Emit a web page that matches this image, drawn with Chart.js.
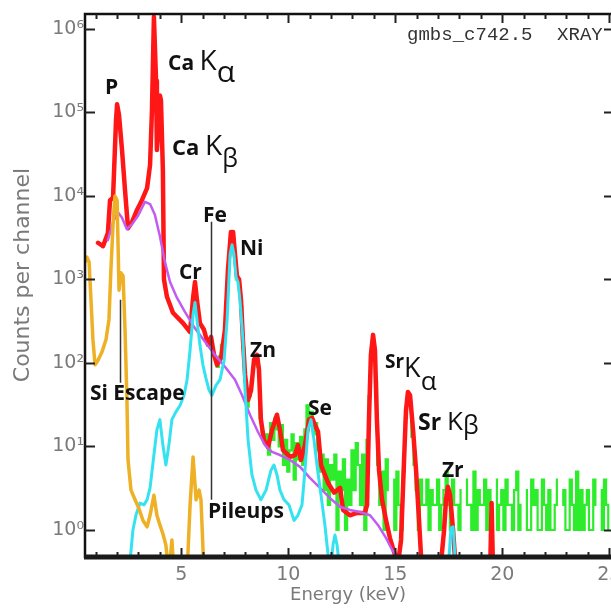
<!DOCTYPE html>
<html>
<head>
<meta charset="utf-8">
<script src="https://cdn.jsdelivr.net/npm/chart.js@4"></script>
<style>
  html, body { margin: 0; padding: 0; background: #fff; }
  #spectrum { display: block; }
</style>
</head>
<body>
<canvas id="spectrum" width="611" height="610"></canvas>
<script>
// [energy keV, counts per channel]
const totalFit = [
  [1.11, 2750], [1.34, 2500], [1.57, 3600], [1.67, 8900], [1.81, 9500], [1.95, 81000], [2.00, 125000], [2.09, 93000], [2.23, 35500], [2.37, 11700],
  [2.51, 4100], [2.70, 4900], [2.93, 6800], [3.16, 8900], [3.40, 12400], [3.54, 23500], [3.63, 107000], [3.72, 1400000], [3.82, 240000], [3.86, 35500],
  [3.96, 81000], [4.00, 160000], [4.05, 140000], [4.14, 20000], [4.19, 1000], [4.33, 620], [4.61, 400], [5.08, 300], [5.41, 235], [5.55, 600],
  [5.64, 930], [5.73, 570], [5.87, 300], [6.06, 250], [6.25, 165], [6.39, 205], [6.53, 125], [6.67, 95],
  [6.86, 115], [7.04, 250], [7.18, 1300], [7.32, 3700], [7.42, 3700], [7.51, 2000], [7.60, 1100], [7.70, 1000], [7.79, 570], [7.88, 190],
  [7.98, 72], [8.12, 36], [8.26, 47], [8.40, 110], [8.54, 125], [8.63, 83], [8.72, 21], [8.86, 12], [9.05, 9.8], [9.24, 15.8],
  [9.47, 24], [9.61, 15.8], [9.75, 9.1], [10.08, 7.5], [10.31, 7.9], [10.45, 10.4], [10.59, 6.9], [10.78, 10.4], [10.97, 21], [11.11, 22],
  [11.25, 18], [11.39, 15], [11.53, 6.0], [11.86, 3.65], [12.14, 2.8], [12.28, 3.0], [12.42, 3.2], [12.56, 1.74], [12.88, 1.5], [13.21, 1.6],
  [13.58, 1.6], [13.68, 2.0], [13.77, 21], [13.86, 125], [13.96, 217], [14.05, 143], [14.14, 21], [14.24, 5.2], [14.38, 2.3], [14.57, 1.3],
  [14.75, 0.8], [14.99, 0.5], [15.13, 0.4], [15.27, 0.76], [15.41, 6.9], [15.50, 27], [15.59, 45], [15.69, 41], [15.83, 15.8], [15.97, 5.2],
  [16.11, 1.3], [16.20, 0.5], [16.29, 0.3], [17.09, 0.3], [17.28, 1.0], [17.37, 2.3], [17.46, 3.3], [17.56, 2.6], [17.70, 1.0], [17.84, 0.3],
  [19.43, 0.3], [19.50, 2.1], [19.57, 0.3]
];

const continuum = [
  [1.57, 2950], [1.81, 4900], [2.04, 6400], [2.23, 5500], [2.46, 4000], [2.70, 4600], [2.98, 5800], [3.30, 8500], [3.54, 8000], [3.77, 5900],
  [4.00, 3300], [4.24, 1600], [4.47, 940], [4.80, 600], [5.17, 410], [5.64, 260], [6.11, 180], [6.57, 125], [7.04, 90], [7.51, 63],
  [7.84, 41], [8.21, 24], [8.58, 15], [8.91, 10.4], [9.24, 8.6], [9.61, 7.9], [10.08, 6.9], [10.55, 5.7], [11.01, 4.2], [11.48, 3.2],
  [11.95, 2.4], [12.42, 1.9], [12.88, 1.74], [13.35, 1.64], [13.82, 1.5], [14.19, 1.15], [14.57, 0.8], [14.85, 0.58], [15.13, 0.46], [15.32, 0.3]
];

const pileup = [
  [2.55, 0.3], [2.74, 1.0], [2.88, 1.5], [3.07, 2.1], [3.26, 2.0], [3.40, 2.3], [3.54, 3.2], [3.72, 7.9], [3.86, 15.8], [4.00, 21],
  [4.14, 10.4], [4.28, 6.0], [4.42, 10.4], [4.56, 21], [4.75, 26], [4.94, 31], [5.13, 41], [5.27, 63], [5.41, 143], [5.55, 380],
  [5.64, 530], [5.73, 330], [5.87, 165], [6.01, 95], [6.15, 66], [6.30, 47], [6.43, 41], [6.62, 54], [6.81, 63], [7.00, 108],
  [7.14, 330], [7.28, 2000], [7.37, 2600], [7.46, 2000], [7.56, 1050], [7.65, 930], [7.74, 570], [7.88, 190], [7.98, 47], [8.12, 12],
  [8.30, 4.6], [8.49, 3.0], [8.72, 2.3], [8.96, 3.0], [9.19, 5.2], [9.33, 6.0], [9.47, 4.6], [9.61, 3.0], [9.80, 2.3], [10.03, 2.0],
  [10.27, 1.3], [10.45, 1.5], [10.64, 2.0], [10.78, 5.2], [10.92, 15.8], [11.06, 21], [11.20, 12], [11.34, 6.0], [11.53, 2.6], [11.71, 1.15],
  [11.86, 0.5], [12.00, 0.38], [12.09, 0.66], [12.18, 0.87], [12.28, 0.66], [12.42, 0.3], [17.46, 0.3], [17.60, 1.05], [17.70, 1.09], [17.84, 0.3]
];

const siEscape = [
  [0.50, 1620], [0.59, 1850], [0.69, 1620], [0.78, 570], [0.87, 190], [0.97, 95], [1.11, 108], [1.29, 135], [1.48, 190], [1.62, 330],
  [1.71, 1300], [1.81, 4500], [1.90, 10000], [2.00, 8900], [2.09, 745], [2.18, 1200], [2.28, 1100], [2.37, 250], [2.46, 36], [2.51, 6.9],
  [2.65, 3.0], [2.84, 2.3], [3.02, 1.8], [3.21, 1.3], [3.40, 1.09], [3.54, 1.5], [3.72, 2.6], [3.86, 1.5], [4.00, 1.15], [4.14, 0.9],
  [4.28, 0.66], [4.42, 0.3], [4.56, 0.76], [4.66, 0.3], [5.27, 0.3], [5.41, 2.0], [5.55, 7.5], [5.69, 2.3], [5.83, 3.0], [5.92, 2.3],
  [6.06, 0.3]
];

// raw channel counts, first channel at 6.6 keV, 0.1 keV per channel
const channelStart = 6.6;
const channelWidth = 0.1;
const rawCounts = [
  95, 90, 120, 165, 200, 520, 1250, 3000, 3300, 1900, 1000, 900, 480, 150,
  60, 30, 40, 60, 95, 120, 90, 22, 15, 11,
  14, 8, 19, 12, 22, 16, 10, 18, 6, 12,
  5, 9, 14, 4, 11, 7, 13, 6, 16, 31,
  22, 26, 14, 19, 9, 5, 8, 3, 7, 2,
  6, 4, 8, 1, 5, 3, 7, 1, 4, 2,
  9, 3, 11, 6, 2, 8, 1, 12, 40, 150,
  160, 60, 6, 2, 5, 1, 7, 3, 0, 4,
  1, 5, 2, 1, 5, 22, 38, 32, 13, 6,
  3, 1, 4, 2, 2, 4, 1, 3, 2, 2,
  4, 1, 2, 3, 5, 2, 1, 4, 2, 2,
  1, 3, 0, 4, 2, 2, 1, 5, 1, 3,
  2, 2, 4, 1, 3, 2, 0, 4, 1, 2,
  3, 1, 4, 2, 2, 1, 3, 5, 1, 2,
  0, 3, 1, 1, 4, 2, 3, 1, 1, 4,
  2, 1, 3, 1, 1, 2, 4, 0, 2, 3,
  1, 1, 4, 2, 1, 5, 1, 3, 1, 2,
  3, 1, 1, 4, 2, 0, 3, 1, 4, 2, 1
];

const energyTicks = [5, 10, 15, 20, 25];
const countTicks = [1, 10, 100, 1000, 10000, 100000, 1000000];
const superscript = ['⁰', '¹', '²', '³', '⁴', '⁵', '⁶'];

// annotation text: anchor [keV, counts] at left baseline, parts [text, px, weight, dy]
const peakLabels = [
  { at: [1.43, 1.66e5], parts: [['P', 21, 700, 0]] },
  { at: [4.38, 3.2e5], parts: [['Ca ', 21, 700, 0], ['K', 28, 400, 0], ['α', 30, 400, 12]] },
  { at: [4.57, 3.1e4], parts: [['Ca ', 22, 700, 0], ['K', 28, 400, 0], ['β', 25, 400, 12]] },
  { at: [6.01, 4900], parts: [['Fe', 21, 700, 0]] },
  { at: [7.74, 1950], parts: [['Ni', 21, 700, 0]] },
  { at: [4.89, 1010], parts: [['Cr', 21, 700, 0]] },
  { at: [8.21, 118], parts: [['Zn', 21, 700, 0]] },
  { at: [0.73, 36], parts: [['Si Escape', 21, 700, 0]] },
  { at: [10.92, 24], parts: [['Se', 21, 700, 0]] },
  { at: [14.52, 68], parts: [['Sr', 19, 700, -9], ['K', 27, 400, 0], ['α', 26, 400, 13]] },
  { at: [16.06, 15.8], parts: [['Sr ', 23, 700, 0], ['K', 26, 400, 0], ['β', 25, 400, 4]] },
  { at: [17.18, 4.3], parts: [['Zr', 21, 700, 0]] },
  { at: [6.25, 1.39], parts: [['Pileups', 21, 700, 0]] }
];

// thin pointer lines [keV, from counts, to counts]
const pointers = [
  [2.14, 570, 58],
  [6.39, 4900, 2.3]
];

function trace(pairs, color, width) {
  return {
    data: pairs.map(([x, y]) => ({ x, y })), borderColor: color, borderWidth: width,
    pointRadius: 0, tension: 0, fill: false,
    borderJoinStyle: 'round', borderCapStyle: 'round'
  };
}

const rawTrace = {
  data: rawCounts.map((c, i) => ({ x: channelStart + i * channelWidth, y: c })),
  borderColor: '#2cec2c', borderWidth: 2.2, pointRadius: 0, fill: false,
  stepped: 'middle'
};

const frame = {
  id: 'frame',
  afterDatasetsDraw(chart) {
    const { ctx, chartArea: a, scales: { x, y } } = chart;
    ctx.save();
    ctx.strokeStyle = '#111';
    ctx.lineCap = 'butt';

    // box edges
    ctx.lineWidth = 2.5;
    ctx.beginPath();
    ctx.moveTo(a.left, a.bottom);
    ctx.lineTo(a.left, a.top);
    ctx.lineTo(a.right + 2, a.top);
    ctx.stroke();
    ctx.lineWidth = 5;
    ctx.strokeStyle = '#1a1a1a';
    ctx.beginPath();
    ctx.moveTo(a.left - 1, a.bottom - 1);
    ctx.lineTo(a.right + 2, a.bottom - 1);
    ctx.stroke();

    // inward ticks
    ctx.strokeStyle = '#222';
    ctx.lineWidth = 2;
    ctx.beginPath();
    for (let e = 1; e <= 25; e++) {
      const px = Math.round(x.getPixelForValue(e)) + 0.5;
      const major = e % 5 === 0;
      ctx.moveTo(px, a.top);
      ctx.lineTo(px, a.top + (major ? 9 : 5));
      ctx.moveTo(px, a.bottom - 3);
      ctx.lineTo(px, a.bottom - (major ? 10 : 6));
    }
    countTicks.forEach(v => {
      const py = Math.round(y.getPixelForValue(v)) + 0.5;
      ctx.moveTo(a.left, py);
      ctx.lineTo(a.left + 10, py);
      ctx.moveTo(a.right - 7, py);
      ctx.lineTo(a.right, py);
    });
    ctx.stroke();

    // pointer lines
    ctx.strokeStyle = '#333';
    ctx.lineWidth = 1.5;
    ctx.beginPath();
    pointers.forEach(([e, c0, c1]) => {
      const px = Math.round(x.getPixelForValue(e)) + 0.5;
      ctx.moveTo(px, y.getPixelForValue(c0));
      ctx.lineTo(px, y.getPixelForValue(c1));
    });
    ctx.stroke();

    // peak labels
    ctx.fillStyle = '#111';
    ctx.textBaseline = 'alphabetic';
    ctx.textAlign = 'left';
    peakLabels.forEach(({ at, parts }) => {
      let px = x.getPixelForValue(at[0]);
      const py = y.getPixelForValue(at[1]);
      parts.forEach(([text, size, weight, dy]) => {
        ctx.font = `${weight} ${size}px "Open Sans"`;
        ctx.fillText(text, px, py + dy);
        px += ctx.measureText(text).width;
      });
    });

    // run header
    ctx.fillStyle = '#333';
    ctx.font = '19px "Liberation Mono"';
    const hy = y.getPixelForValue(7.4e5);
    ctx.fillText('gmbs_c742.5', x.getPixelForValue(15.55), hy);
    ctx.fillText('XRAY', x.getPixelForValue(22.56), hy);

    // y axis title
    ctx.fillStyle = '#7a7a7a';
    ctx.font = '22px "DejaVu Sans"';
    ctx.textAlign = 'center';
    ctx.textBaseline = 'middle';
    ctx.translate(23, y.getPixelForValue(1130));
    ctx.rotate(-Math.PI / 2);
    ctx.fillText('Counts per channel', 0, 0);
    ctx.restore();
  }
};

const axisFont = { family: 'DejaVu Sans', size: 19 };

new Chart(document.getElementById('spectrum'), {
  type: 'line',
  data: {
    datasets: [
      trace(siEscape, '#eeb024', 3.5),
      trace(pileup, '#35e2ef', 3),
      trace(continuum, '#c05cf2', 2.5),
      trace(totalFit, '#ff1616', 4.5),
      rawTrace
    ]
  },
  options: {
    responsive: false,
    animation: false,
    devicePixelRatio: 1,
    layout: { padding: { top: 14, left: 0, right: 0, bottom: 0 } },
    plugins: { legend: { display: false }, tooltip: { enabled: false } },
    scales: {
      x: {
        type: 'linear', min: 0.5, max: 25.08,
        grid: { display: false, drawTicks: false },
        border: { display: false },
        afterBuildTicks: s => { s.ticks = energyTicks.map(v => ({ value: v })); },
        afterFit: s => { s.height = 52; s.paddingLeft = 0; s.paddingRight = 0; },
        ticks: { font: axisFont, color: '#7a7a7a', padding: 6, maxRotation: 0, autoSkip: false },
        title: { display: true, text: 'Energy (keV)', color: '#7a7a7a', font: { family: 'DejaVu Sans', size: 18 }, padding: { top: 0, bottom: 4 } }
      },
      y: {
        type: 'logarithmic', min: 0.462, max: 1.51e6,
        grid: { display: false, drawTicks: false },
        border: { display: false },
        afterBuildTicks: s => { s.ticks = countTicks.map(v => ({ value: v })); },
        afterFit: s => { s.width = 85; s.paddingTop = 0; s.paddingBottom = 0; },
        ticks: {
          font: axisFont, color: '#7a7a7a', padding: 1, autoSkip: false,
          callback: v => '10' + superscript[Math.round(Math.log10(v))]
        }
      }
    }
  },
  plugins: [frame]
});
</script>
</body>
</html>
